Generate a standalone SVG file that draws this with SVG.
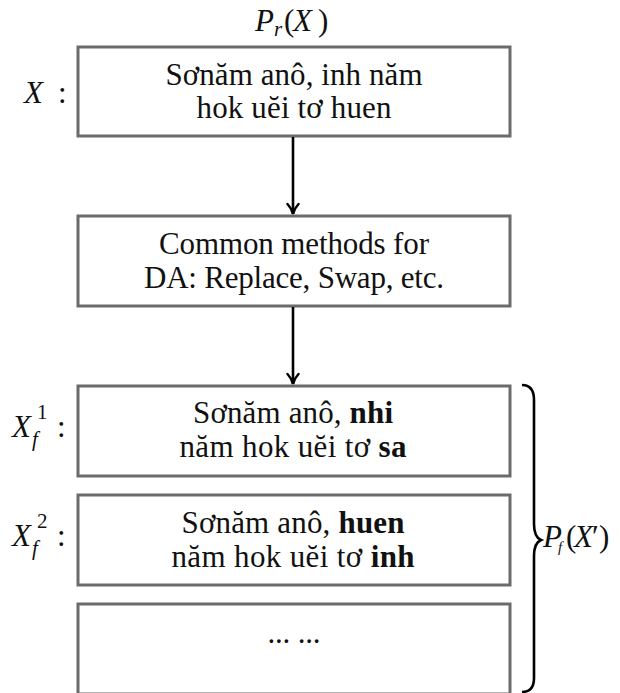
<svg xmlns="http://www.w3.org/2000/svg" width="620" height="693" viewBox="0 0 620 693">
<defs>
<style>
.box{fill:#fff;stroke:#6b6b6b;stroke-width:3}
.t{font-family:"Liberation Serif","DejaVu Serif",serif;font-size:31px;fill:#111;text-anchor:middle}
.m{font-family:"Liberation Serif","DejaVu Serif",serif;font-size:31px;fill:#111}
.s{font-family:"Liberation Serif","DejaVu Serif",serif;font-size:21px;fill:#111}
.i{font-style:italic}
.b{font-weight:bold}
.conn{stroke:#000;stroke-width:2.6;fill:none}
</style>
<marker id="arr" viewBox="0 0 14 14" refX="12" refY="7" markerWidth="14" markerHeight="14" markerUnits="userSpaceOnUse" orient="auto">
<path d="M2,1.5 Q7,6 12,7 Q7,8 2,12.5" fill="none" stroke="#000" stroke-width="2.4" stroke-linecap="round"/>
</marker>
</defs>
<rect width="620" height="693" fill="#fff"/>

<g id="label-pr">
<text class="m" y="31"><tspan class="i" x="255">P</tspan><tspan class="i" x="274" y="36" font-size="21">r</tspan><tspan x="284" y="31">(</tspan><tspan class="i" x="293">X</tspan><tspan x="318">)</tspan></text>
</g>

<g id="node-x">
<text class="m i" x="24" y="103">X</text>
<text class="m" x="58" y="103">:</text>
<rect class="box" x="78" y="47" width="432" height="89"/>
<text class="t" x="294" y="85" textLength="257" lengthAdjust="spacing">Sơnăm anô, inh năm</text>
<text class="t" x="294" y="118" textLength="195" lengthAdjust="spacing">hok uĕi tơ huen</text>
</g>

<g id="node-da">
<rect class="box" x="78" y="216" width="432" height="90"/>
<text class="t" x="294" y="254" textLength="270" lengthAdjust="spacing">Common methods for</text>
<text class="t" x="294" y="288" textLength="300" lengthAdjust="spacing">DA: Replace, Swap, etc.</text>
</g>

<g id="node-xf1">
<text class="m i" x="12" y="437">X</text>
<text class="s i" x="32" y="446">f</text>
<text class="s" x="37" y="419">1</text>
<text class="m" x="57" y="437">:</text>
<rect class="box" x="78" y="386" width="432" height="90"/>
<text class="t" x="293" y="423" textLength="200" lengthAdjust="spacing"><tspan>Sơnăm anô, </tspan><tspan class="b">nhi</tspan></text>
<text class="t" x="293" y="457" textLength="227" lengthAdjust="spacing"><tspan>năm hok uĕi tơ </tspan><tspan class="b">sa</tspan></text>
</g>

<g id="node-xf2">
<text class="m i" x="12" y="546">X</text>
<text class="s i" x="32" y="555">f</text>
<text class="s" x="37" y="528">2</text>
<text class="m" x="57" y="546">:</text>
<rect class="box" x="78" y="495" width="432" height="90"/>
<text class="t" x="293" y="533" textLength="223" lengthAdjust="spacing"><tspan>Sơnăm anô, </tspan><tspan class="b">huen</tspan></text>
<text class="t" x="293" y="567" textLength="243" lengthAdjust="spacing"><tspan>năm hok uĕi tơ </tspan><tspan class="b">inh</tspan></text>
</g>

<g id="node-more">
<rect class="box" x="78" y="604" width="432" height="90"/>
<text class="t" x="294" y="643" textLength="53" lengthAdjust="spacing">... ...</text>
</g>

<g id="brace">
<path class="conn" d="M522,385 Q534,385 534,400 L534,524 Q534,537 541,540 Q534,543 534,556 L534,678 Q534,692 522,692" stroke-width="3.2"/>
<text class="m" y="547" font-size="22"><tspan class="i" x="543">P</tspan><tspan class="i" x="558" y="552" font-size="15">f</tspan><tspan x="566" y="547">(</tspan><tspan class="i" x="574">X</tspan><tspan x="592">′</tspan><tspan x="599">)</tspan></text>
</g>

<g id="connectors">
<line class="conn" x1="293" y1="137" x2="293" y2="214" marker-end="url(#arr)"/>
<line class="conn" x1="293" y1="307" x2="293" y2="384" marker-end="url(#arr)"/>
</g>
</svg>
